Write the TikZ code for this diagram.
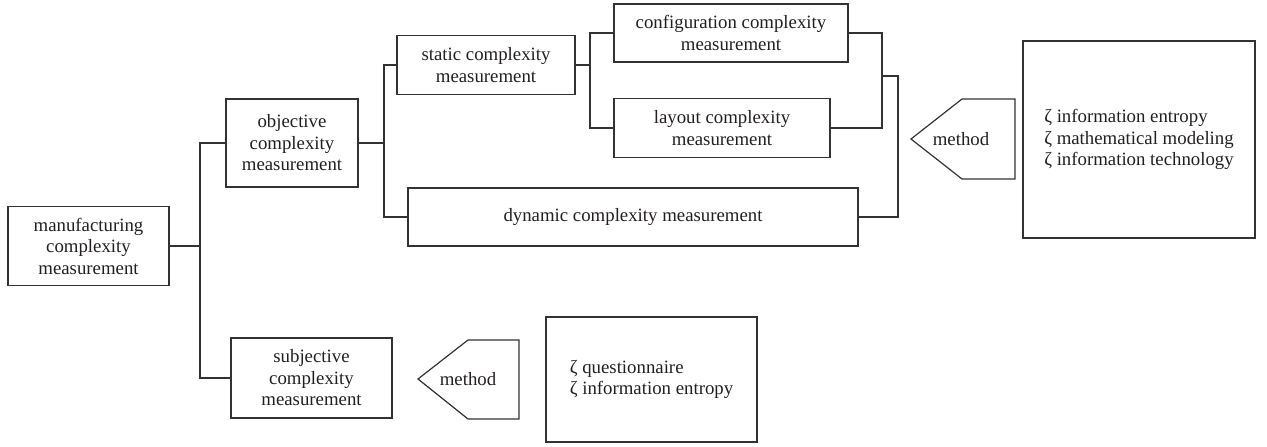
\documentclass[tikz,border=0pt]{standalone}
\usepackage{fontspec}
\setmainfont{Liberation Serif}
\usepackage{xcolor}
\usepackage{tikz}
\definecolor{inkgray}{RGB}{35, 31, 32}
\definecolor{linegray}{RGB}{50, 50, 50}

\tikzset{
  box/.style={draw=linegray, line width=1.2pt, align=center, text=inkgray,
    inner sep=2pt, font=\fontsize{18.8}{21.5}\selectfont},
  listbox/.style={box, align=left},
  tagtext/.style={text=inkgray, inner sep=0pt, font=\fontsize{18.8}{21.5}\selectfont},
  link/.style={draw=linegray, line width=1.2pt}
}

\begin{document}
\begin{tikzpicture}[x=1pt, y=-1pt]
  \useasboundingbox (0,0) rectangle (1267,447);

  \node[box, minimum width=161, minimum height=79] (manuf) at (88.5,246)
    {manufacturing\\complexity\\measurement};
  \node[box, minimum width=132, minimum height=88] (objective) at (292,143)
    {objective\\complexity\\measurement};
  \node[box, minimum width=161, minimum height=80] (subjective) at (311.5,378)
    {subjective\\complexity\\measurement};
  \node[box, minimum width=178, minimum height=59] (static) at (486,65)
    {static complexity\\measurement};
  \node[box, minimum width=234, minimum height=58] (config) at (731,33)
    {configuration complexity\\measurement};
  \node[box, minimum width=216, minimum height=59] (layout) at (722,128)
    {layout complexity\\measurement};
  \node[box, minimum width=450, minimum height=58] (dynamic) at (633,217)
    {dynamic complexity measurement};

  \node[tagtext] (methodA) at (961,139) {method};
  \draw[link, line join=miter] (methodA.center) ++(-50,0) -- ++(51,-40) -- ++(53,0)
    -- ++(0,80) -- ++(-53,0) -- cycle;
  \node[listbox, minimum width=232, minimum height=197] (infoA) at (1139,139.5)
    {ζ information entropy\\ζ mathematical modeling\\ζ information technology};

  \node[tagtext] (methodB) at (468,379) {method};
  \draw[link, line join=miter] (methodB.center) ++(-50,0) -- ++(50,-39) -- ++(51,0)
    -- ++(0,79) -- ++(-51,0) -- cycle;
  \node[listbox, minimum width=211, minimum height=125] (infoB) at (651.5,379.5)
    {ζ questionnaire\\ζ information entropy};

  \coordinate (j1) at (200,0);
  \coordinate (j2) at (384,0);
  \coordinate (j3) at (590,0);
  \coordinate (j4) at (882,0);
  \coordinate (j5) at (898,0);

  \draw[link] (manuf.east) -- (manuf.east -| j1);
  \draw[link] (objective.west) -- (objective.west -| j1) |- (subjective.west);

  \draw[link] (objective.east) -- (objective.east -| j2);
  \draw[link] (static.west) -- (static.west -| j2) |- (dynamic.west);

  \draw[link] (static.east) -- (static.east -| j3);
  \draw[link] (config.west) -- (config.west -| j3) |- (layout.west);

  \draw[link] (config.east) -- (config.east -| j4) |- (layout.east);
  \coordinate (fork) at (882,76);
  \draw[link] (fork) -- (fork -| j5) |- (dynamic.east);
\end{tikzpicture}
\end{document}
